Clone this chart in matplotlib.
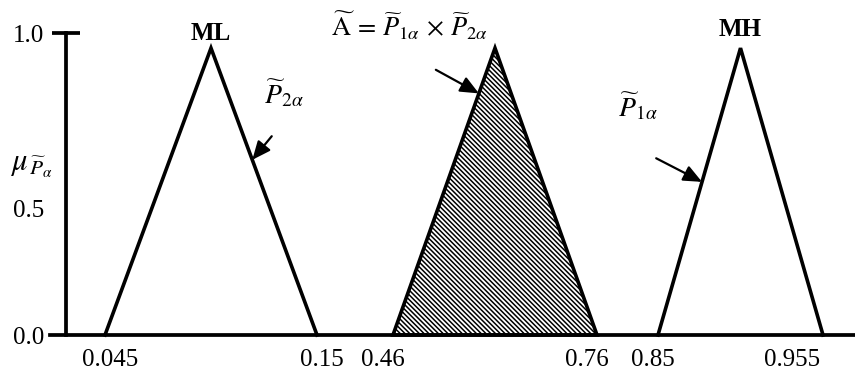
import numpy as np
import matplotlib
matplotlib.use('Agg')
import matplotlib.pyplot as plt

# ---------------------------------------------------------
# Data
# ---------------------------------------------------------
ml_x = [0.045, 0.0975, 0.15]        # ML  -> P2 alpha
prod_x = [0.46, 0.61, 0.76]         # A = P1 x P2
mh_x = [0.85, 0.9025, 0.955]        # MH  -> P1 alpha
membership = [0.0, 0.95, 0.0]

x_ticks = [0.045, 0.15, 0.46, 0.76, 0.85, 0.955]
x_tick_labels = ['0.045', '0.15', '0.46', '0.76', '0.85', '0.955']
y_ticks = [0.0, 0.42, 1.0]
y_tick_labels = ['0.0', '0.5', '1.0']

# schematic (broken) x axis: where each tick value sits, in pixels
slot_px = [105, 317, 393, 597, 658, 823]
label_nudge_px = [5, 5, -10, -10, -5, -31]

plt.rcParams['font.family'] = ['Liberation Serif', 'DejaVu Serif']
plt.rcParams['mathtext.fontset'] = 'stix'
plt.rcParams['hatch.linewidth'] = 1.1

W, H = 855, 371
fig = plt.figure(figsize=(W / 100, H / 100), dpi=100)
ax = fig.add_axes([50 / W, (H - 335) / H, 805 / W, 302 / H])

# piecewise linear scale, extended linearly on both sides
s_left = (slot_px[1] - slot_px[0]) / (x_ticks[1] - x_ticks[0])
s_right = (slot_px[-1] - slot_px[-2]) / (x_ticks[-1] - x_ticks[-2])
xa = [-1.0] + x_ticks + [2.0]
pa = ([slot_px[0] - (x_ticks[0] + 1.0) * s_left] + slot_px +
      [slot_px[-1] + (2.0 - x_ticks[-1]) * s_right])


def forward(v):
    return np.interp(np.asarray(v, float), xa, pa)


def inverse(p):
    return np.interp(np.asarray(p, float), pa, xa)


ax.set_xscale('function', functions=(forward, inverse))
ax.set_xlim(float(inverse(50)), float(inverse(855)))
ax.set_ylim(0, 1.0)

lw = 2.6
ax.plot(ml_x, membership, color='black', lw=lw, solid_joinstyle='miter', clip_on=False)
ax.plot(mh_x, membership, color='black', lw=lw, solid_joinstyle='miter', clip_on=False)
ax.fill(prod_x, membership, facecolor='white', edgecolor='black', hatch='\\' * 7,
        lw=lw, joinstyle='miter', clip_on=False)

# axes styling
for side in ['top', 'right']:
    ax.spines[side].set_visible(False)
ax.spines['left'].set_position(('axes', 16 / 805))
ax.spines['left'].set_linewidth(2.7)
ax.spines['bottom'].set_linewidth(2.7)

ax.set_yticks(y_ticks)
ax.set_yticklabels(y_tick_labels, fontsize=18)
ax.tick_params(axis='y', direction='inout', length=20, width=2.7, pad=6)
ax.yaxis.get_major_ticks()[1].tick1line.set_visible(False)
ax.yaxis.get_major_ticks()[0].tick1line.set_visible(False)

ax.set_xticks(x_ticks)
ax.set_xticklabels(x_tick_labels, fontsize=18)
ax.tick_params(axis='x', length=0, pad=10)
ax.minorticks_off()
for lab, dx in zip(ax.get_xticklabels(), label_nudge_px):
    lab.set_transform(lab.get_transform() +
                      matplotlib.transforms.ScaledTranslation(dx / 100, 0, fig.dpi_scale_trans))

# peak labels
ax.text(ml_x[1], 1.0, 'ML', ha='center', va='center', fontsize=18, fontweight='bold', clip_on=False)
ax.text(mh_x[1], 1.01, 'MH', ha='center', va='center', fontsize=18, fontweight='bold', clip_on=False)


def on_edge(x0, xp, h):
    # point at height h on the edge from base x0 to the peak xp
    return x0 + (xp - x0) * h / membership[1], h


arrow = dict(arrowstyle='-|>,head_length=0.8,head_width=0.35', color='black', lw=1.6,
             shrinkA=0, shrinkB=0, mutation_scale=14)
ax.annotate('', xy=on_edge(ml_x[2], ml_x[1], 0.58), xytext=(14, 17),
            textcoords='offset points', arrowprops=arrow)
ax.annotate('', xy=on_edge(prod_x[0], prod_x[1], 0.80), xytext=(-31, 17),
            textcoords='offset points', arrowprops=arrow)
ax.annotate('', xy=on_edge(mh_x[0], mh_x[1], 0.507), xytext=(-33, 17),
            textcoords='offset points', arrowprops=arrow)

# curve labels
fig.text(284 / W, 1 - 93 / H, r'$\widetilde{P}_{2\alpha}$', ha='center', va='center', fontsize=20)
fig.text(638 / W, 1 - 106 / H, r'$\widetilde{P}_{1\alpha}$', ha='center', va='center', fontsize=20)
fig.text(331 / W, 1 - 26 / H,
         r'$\widetilde{\mathrm{A}}\,=\,\widetilde{P}_{1\alpha}\,\times\,\widetilde{P}_{2\alpha}$',
         ha='left', va='center', fontsize=19)
fig.text(10 / W, 1 - 165 / H, r'$\mu_{\,\widetilde{P}_{\alpha}}$', ha='left', va='center', fontsize=22)

fig.savefig('out.png', dpi=100)
